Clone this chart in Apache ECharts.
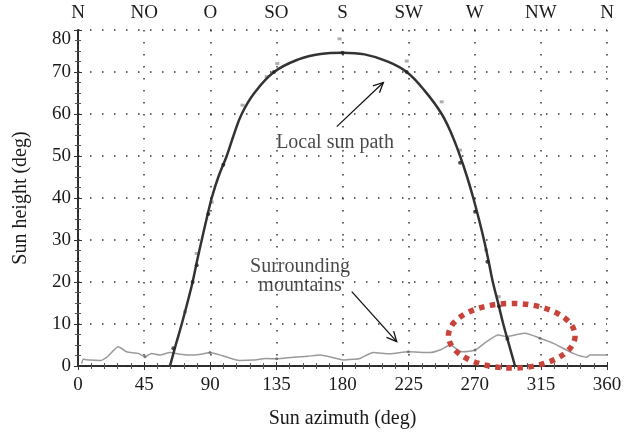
<!DOCTYPE html>
<html><head><meta charset="utf-8">
<script src="https://cdn.jsdelivr.net/npm/echarts/dist/echarts.min.js"></script>
<style>html,body{margin:0;background:#fff}#c{width:628px;height:434px}</style>
</head><body><div id="c"></div>
<script>
// Tick labels
const directionLabels = ['N','NO','O','SO','S','SW','W','NW','N'];
// Local sun path [azimuth, height]
const sunPath = [[62.6,0],[66.5,5],[70.6,10],[74.4,15],[78,20],[81,25],[84.2,30],[87.5,35],[91,40],[95.5,45],[101.2,50],[106,55],[111.4,60],[120,65],[133.4,70],[150,73],[165,74.3],[180,74.6],[195,74.2],[210,72.6],[223.7,70],[236,65.5],[247.5,60],[254.5,55],[260,50],[264.8,45],[269,40],[272.8,35],[276.3,30],[279.4,25],[282.3,20],[285.9,15],[289.4,10],[293.4,5],[297.4,0]];
// dots on the sun path
const sunDots = [[64.9,4.2],[78,20],[80.8,24],[88.7,36.2],[98.9,47.9],[133.4,70],[180,74.6],[223.7,70],[260,48.4],[270.2,36.7],[278.6,24.8],[286.5,14.2],[292.2,6.5]];
// grey measured marks near the path
const sunMarks = [[178,77.9],[135.6,72],[223.7,72.6],[247.5,62.9],[112,62.1],[128.4,68.9],[91,39],[80.8,26.8],[72.8,12.9],[260,51.4],[277.7,27.6],[286.3,16.5]];
// Surrounding mountains horizon
const mountains = [[2.5,0.6],[3.6,1.6],[8,1.4],[15,1.3],[20,2.2],[27.4,4.6],[33,3.4],[41,3.0],[45.6,2.2],[50,3.0],[55.8,2.6],[62.6,3.2],[69.4,2.8],[78.5,2.6],[85.3,2.9],[89.8,3.2],[98.8,2.4],[110,1.3],[119.3,1.4],[128,1.8],[135.2,1.7],[146.5,2.1],[156,2.3],[164.7,2.6],[176,1.8],[180.6,1.4],[187.4,1.6],[191.9,1.8],[201,3.2],[212.3,2.9],[224.8,3.4],[239.6,3.2],[246.4,3.8],[253.2,5.0],[261.1,3.4],[270.2,3.8],[278.1,5.8],[286,7.4],[291.7,7.0],[297.4,7.4],[304.2,7.8],[314.4,6.6],[323.5,5.4],[337.1,3.0],[346.2,2.1],[348.4,2.6],[360,2.6]];
const mountainDots = [[45.6,2.2],[89.8,3.2],[135.2,1.7],[224.8,3.4],[270.2,3.8],[314.4,6.6]];
// Highlight ellipse [cx, cy, rx, ry] in data units
const highlight = [[295.2,7.2,43.1,7.7]];
// Annotation arrows [x1,y1,x2,y2]
const arrows = [[176.1,57.0,207.8,67.5],[186.3,17.7,216.9,5.8]];
// Annotation texts
const noteTexts = ['Local sun path','Surrounding\nmountains'];
const notePos = [[174.9,53.1],[151.1,21.4]];

const FONT = '"Liberation Serif", "DejaVu Serif", serif';
const TXT = '#1a1a1a';
const dotted = {color:'#333', width:1.5, type:[1.5,10.5]};
const chart = echarts.init(document.getElementById('c'));
const commonX = {type:'value', min:0, max:360, interval:45};
chart.setOption({
  animation:false,
  grid:{left:78, right:21, top:30, bottom:68},
  xAxis:[
    Object.assign({}, commonX, {
      position:'bottom',
      name:'Sun azimuth (deg)', nameLocation:'middle', nameGap:43,
      nameTextStyle:{fontFamily:FONT, fontSize:20, color:TXT},
      axisLine:{lineStyle:{color:'#222', width:1.5}},
      axisTick:{show:true, inside:true, length:4, lineStyle:{color:'#333'}},
      minorTick:{show:true, splitNumber:5, length:3, lineStyle:{color:'#555'}},
      axisLabel:{fontFamily:FONT, fontSize:19, color:TXT, margin:10},
      splitLine:{show:true, lineStyle:dotted}
    }),
    Object.assign({}, commonX, {
      position:'top',
      axisLine:{lineStyle:{color:'#222', width:1.5}},
      axisTick:{show:true, inside:true, length:4, lineStyle:{color:'#333'}},
      minorTick:{show:true, splitNumber:5, length:3, lineStyle:{color:'#555'}},
      axisLabel:{fontFamily:FONT, fontSize:19, color:TXT, margin:7,
        formatter:v=>directionLabels[Math.round(v/45)]},
      splitLine:{show:false}
    })
  ],
  yAxis:[
    {type:'value', min:0, max:80, interval:10, position:'left',
     name:'Sun height (deg)', nameLocation:'middle', nameGap:47,
     nameTextStyle:{fontFamily:FONT, fontSize:20, color:TXT},
     axisLine:{show:true, lineStyle:{color:'#222', width:1.5}},
     axisTick:{show:true, inside:true, length:4, lineStyle:{color:'#333'}},
     minorTick:{show:true, splitNumber:4, length:3, lineStyle:{color:'#555'}},
     axisLabel:{fontFamily:FONT, fontSize:19, color:TXT, margin:7,
       formatter:v=> v===80 ? '{t|'+v+'}' : String(v),
       rich:{t:{fontFamily:FONT, fontSize:19, color:TXT, padding:[18,0,0,0]}}},
     splitLine:{show:true, lineStyle:dotted}},
    {type:'value', min:0, max:80, interval:10, position:'right',
     axisLine:{show:true, lineStyle:{color:'#222', width:1.5}},
     axisTick:{show:true, inside:true, length:4, lineStyle:{color:'#333'}},
     minorTick:{show:true, splitNumber:4, length:3, lineStyle:{color:'#555'}},
     axisLabel:{show:false}, splitLine:{show:false}}
  ],
  series:[
    {type:'line', data:mountains, showSymbol:false, smooth:0.2,
     lineStyle:{color:'#9a9a9a', width:1.5}, z:3},
    {type:'scatter', data:mountainDots, symbolSize:3, itemStyle:{color:'#666'}, z:4},
    {type:'line', data:sunPath, showSymbol:false, smooth:0.4,
     lineStyle:{color:'#333', width:2.5}, z:5},
    {type:'scatter', data:sunDots, symbolSize:4, itemStyle:{color:'#222'}, z:6},
    {type:'scatter', data:sunMarks, symbol:'rect', symbolSize:[4,3], itemStyle:{color:'#9a9a9a'}, z:4},
    {type:'custom', data:highlight, clip:false, z:7,
     renderItem:(p, api)=>{
       const c = api.coord([api.value(0), api.value(1)]);
       const s = api.size([api.value(2), api.value(3)]);
       return {type:'ellipse', shape:{cx:c[0], cy:c[1], rx:s[0], ry:s[1]},
         style:{fill:null, stroke:'#c8443b', lineWidth:5.5, lineDash:[5.5,5.5]}};
     }},
    {type:'custom', data:arrows, clip:false, z:8,
     renderItem:(p, api)=>{
       const a = api.coord([api.value(0), api.value(1)]);
       const b = api.coord([api.value(2), api.value(3)]);
       const ang = Math.atan2(b[1]-a[1], b[0]-a[0]);
       const L = 11, sp = 0.45;
       const h1 = [b[0]-L*Math.cos(ang-sp), b[1]-L*Math.sin(ang-sp)];
       const h2 = [b[0]-L*Math.cos(ang+sp), b[1]-L*Math.sin(ang+sp)];
       return {type:'group', children:[
         {type:'line', shape:{x1:a[0], y1:a[1], x2:b[0], y2:b[1]}, style:{stroke:'#111', lineWidth:1.3}},
         {type:'polyline', shape:{points:[h1,b,h2]}, style:{stroke:'#111', lineWidth:1.3, fill:null}}
       ]};
     }},
    {type:'scatter', symbolSize:0, z:9,
     data:notePos.map((v,i)=>({value:v, name:noteTexts[i]})),
     label:{show:true, position:'inside', formatter:q=>q.name,
       fontFamily:FONT, fontSize:20, color:TXT, lineHeight:19, align:'center'}}
  ]
});
</script></body></html>
